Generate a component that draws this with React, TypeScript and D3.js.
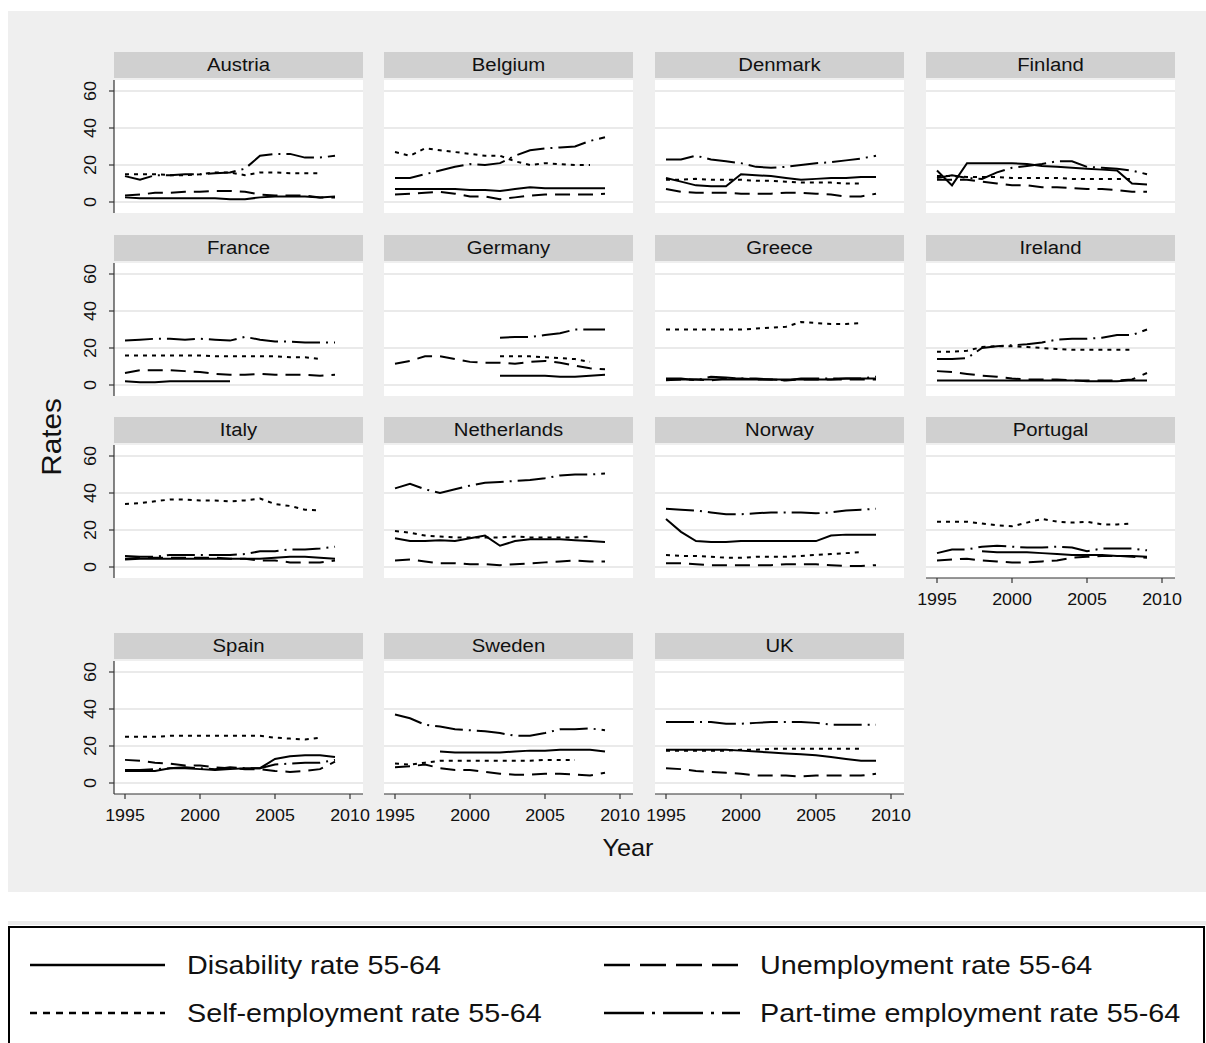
import * as d3 from 'd3'

const years = d3.range(1995, 2010)

const countries = [
  'Austria', 'Belgium', 'Denmark', 'Finland',
  'France', 'Germany', 'Greece', 'Ireland',
  'Italy', 'Netherlands', 'Norway', 'Portugal',
  'Spain', 'Sweden', 'UK',
]

type Row = (number | null)[]
const _ = null

const disability: Record<string, Row> = {
  Austria: [2.5, 2, 2, 2, 2, 2, 2, 1.5, 1.5, 2.5, 3, 3, 3, 2.5, 3],
  Belgium: [7, 7, 7, 7, 7, 6.5, 6.5, 6, 7, 8, 7.5, 7.5, 7.5, 7.5, 7.5],
  Denmark: [13, 11, 9, 8.5, 8.5, 15, 14.5, 14, 13, 12, 12.5, 13, 13, 13.5, 13.5],
  Finland: [17, 9, 21, 21, 21, 21, 20.5, 19.5, 19, 18.5, 18, 17.5, 17, 10, 9.5],
  France: [2, 1.5, 1.5, 2, 2, 2, 2, 2, _, _, _, _, _, _, _],
  Germany: [_, _, _, _, _, _, _, 5, 5, 5, 5, 4.5, 4.5, 5, 5.5],
  Greece: [3, 3, 3, 3, 3, 3, 3, 3, 3, 3, 3, 3, 3.5, 3.5, 3.5],
  Ireland: [2.5, 2.5, 2.5, 2.5, 2.5, 2.5, 2.5, 2.5, 2.5, 2.5, 2, 2, 2, 2.5, 2.5],
  Italy: [4, 4.5, 4.5, 4.5, 4.5, 4.5, 4.5, 4.5, 4.5, 4.5, 5, 5.5, 5.5, 5, 4.5],
  Netherlands: [15.5, 14, 14, 14.5, 14, 15.5, 17, 11.5, 14, 15, 15, 15, 14.5, 14, 13.5],
  Norway: [26, 19, 14, 13.5, 13.5, 14, 14, 14, 14, 14, 14, 17, 17.5, 17.5, 17.5],
  Portugal: [_, _, _, 8.5, 8, 8, 8, 7.5, 7, 6.5, 6.5, 6.5, 6, 6, 5.5],
  Spain: [6.5, 6.5, 6.5, 8, 8, 7.5, 7, 7.5, 8, 8, 13, 14.5, 15, 15, 14],
  Sweden: [_, _, _, 17, 16.5, 16.5, 16.5, 16.5, 17, 17.5, 17.5, 18, 18, 18, 17],
  UK: [18, 18, 18, 18, 18, 17.5, 17, 16.5, 16, 15.5, 15, 14, 13, 12, 12],
}

const unemployment: Record<string, Row> = {
  Austria: [3.5, 4, 5, 5, 5.5, 5.5, 6, 6, 5.5, 4, 3.5, 3.5, 3.5, 2.5, 2.5],
  Belgium: [4, 4.5, 5, 5.5, 4.5, 3, 3, 1.5, 2.5, 3.5, 4, 4, 4, 4, 4.5],
  Denmark: [7, 5.5, 5, 5, 5, 4.5, 4.5, 4.5, 5, 5, 4.5, 4, 3, 3, 4.5],
  Finland: [12, 12, 12, 11, 10, 9, 9, 8, 8, 7.5, 7, 7, 6.5, 5.5, 5.5],
  France: [6.5, 8, 8, 8, 7.5, 7, 6, 5.5, 5.5, 6, 5.5, 5.5, 5.5, 5, 5.5],
  Germany: [11.5, 13, 15.5, 15.5, 14, 12.5, 12, 12, 11.5, 12.5, 13, 12, 10.5, 9, 8.5],
  Greece: [2.5, 3, 3, 2.5, 3.5, 3.5, 3, 3, 2.5, 3, 3, 3, 3, 3, 3],
  Ireland: [7.5, 7, 6, 5, 4.5, 3.5, 3, 3, 3, 2.5, 2.5, 2.5, 2.5, 3, 6.5],
  Italy: [4.5, 5, 5, 5, 5, 5, 5, 4.5, 4.5, 3.5, 3.5, 2.5, 2.5, 2.5, 3.5],
  Netherlands: [3.5, 4, 3, 2, 2, 1.5, 1.5, 1, 1.5, 2, 2.5, 3, 3.5, 3, 3],
  Norway: [2, 2, 1.5, 1, 1, 1, 1, 1, 1.5, 1.5, 1.5, 1, 0.5, 0.5, 1],
  Portugal: [3.5, 4, 4.5, 3.5, 3, 2.5, 2.5, 3, 3.5, 5, 5.5, 6, 6, 5.5, 5],
  Spain: [12.5, 12, 11, 10.5, 9.5, 9.5, 8.5, 8, 7.5, 7.5, 6.5, 6, 6.5, 7.5, 11.5],
  Sweden: [8.5, 9, 10, 8, 7, 7, 6, 5, 4.5, 4.5, 5, 5, 4.5, 4, 5.5],
  UK: [8, 7.5, 6.5, 6, 5.5, 5, 4, 4, 4, 3.5, 4, 4, 4, 4, 5],
}

const selfEmployment: Record<string, Row> = {
  Austria: [15, 15, 15, 14.5, 14.5, 15, 16, 16, 14.5, 16, 16, 15.5, 15.5, 15.5, _],
  Belgium: [27, 25, 29, 28, 27, 26, 25, 25, 22, 20, 21, 20.5, 20, 20, _],
  Denmark: [12, 12, 12.5, 12, 12, 12, 11.5, 11.5, 11, 10.5, 10.5, 10.5, 10, 10, _],
  Finland: [14, 14, 13.5, 13.5, 13.5, 13, 13, 13, 13, 12.5, 12.5, 12.5, 12.5, 12.5, _],
  France: [16, 16, 16, 16, 16, 16, 15.5, 15.5, 15.5, 15.5, 15.5, 15, 15, 14, _],
  Germany: [_, _, _, _, _, _, _, 15.5, 15.5, 15.5, 15, 14.5, 14, 12.5, _],
  Greece: [30, 30, 30, 30, 30, 30, 30.5, 31, 31.5, 34, 33.5, 33, 33, 33.5, _],
  Ireland: [18, 18, 18.5, 20.5, 21, 21, 20.5, 20, 19.5, 19, 19, 19, 19, 19, _],
  Italy: [34, 34.5, 35.5, 36.5, 36.5, 36, 36, 35.5, 36, 37, 34, 33, 31, 30.5, _],
  Netherlands: [19.5, 18.5, 17, 16.5, 16, 16, 16, 16, 16.5, 16, 16, 16, 16, 16.5, _],
  Norway: [6.5, 6, 6, 5.5, 5, 5, 5.5, 5.5, 5.5, 6, 6.5, 7, 7.5, 8, _],
  Portugal: [24.5, 24.5, 24.5, 23.5, 22.5, 22, 24, 26, 24.5, 24, 24.5, 23, 23, 23.5, _],
  Spain: [25, 25, 25, 25.5, 25.5, 25.5, 25.5, 25.5, 25.5, 25.5, 24.5, 24, 23.5, 24.5, _],
  Sweden: [10.5, 10, 11, 12, 12, 12, 12, 12, 12, 12, 12.5, 12.5, 12.5, _, _],
  UK: [17.5, 17.5, 17.5, 17.5, 17.5, 18, 18, 18.5, 18.5, 18.5, 18.5, 18.5, 18.5, 18.5, _],
}

const partTime: Record<string, Row> = {
  Austria: [14, 12, 14.5, 14.5, 15, 15, 15.5, 16, 18, 25, 26, 26, 24, 24, 25],
  Belgium: [13, 13, 15, 17, 19, 20.5, 20, 21, 25, 28, 29, 29.5, 30, 33, 35],
  Denmark: [23, 23, 25, 23, 22, 21, 19, 18.5, 19, 20, 21, 21.5, 22.5, 23.5, 25],
  Finland: [13, 14.5, 13, 12.5, 16, 18.5, 19.5, 20.5, 22, 22, 19, 18.5, 18, 17, 15],
  France: [24, 24.5, 25, 25, 24.5, 25, 24.5, 24, 26, 24.5, 23.5, 23.5, 23, 23, 23],
  Germany: [_, _, _, _, _, _, _, 25.5, 26, 26, 27, 28, 30, 30, 30],
  Greece: [3.5, 3.5, 2.5, 4.5, 4, 3.5, 3.5, 3, 2.5, 3.5, 3.5, 3.5, 3.5, 3.5, 4.5],
  Ireland: [14, 14, 14.5, 20, 21, 21.5, 22, 23, 24.5, 25, 25, 25.5, 27, 27, 30],
  Italy: [6, 5.5, 5.5, 6.5, 6.5, 6.5, 6.5, 6.5, 7, 8.5, 8.5, 9.5, 9.5, 10, 11],
  Netherlands: [42.5, 45, 42, 40, 42, 44, 45.5, 46, 46.5, 47, 48, 49.5, 50, 50, 50.5],
  Norway: [31.5, 31, 30.5, 29.5, 28.5, 28.5, 29, 29.5, 29.5, 29.5, 29, 29.5, 30.5, 31, 31.5],
  Portugal: [7.5, 9.5, 9.5, 11, 11.5, 11, 10.5, 10.5, 11, 10.5, 8.5, 10, 10, 10, 9],
  Spain: [7, 7, 7.5, 8, 8.5, 8, 7.5, 8.5, 8, 8, 10, 10.5, 11, 11, 12.5],
  Sweden: [37, 35, 31.5, 30.5, 29, 28.5, 28, 27, 25.5, 25.5, 27, 29, 29, 29.5, 28.5],
  UK: [33, 33, 33, 33, 32, 32, 32.5, 33, 33, 33, 32.5, 31.5, 31.5, 31.5, 31.5],
}

const yTicks = [0, 20, 40, 60]
const xTicks = [1995, 2000, 2005, 2010]

const seriesDefs = [
  { label: 'Disability rate 55-64', data: disability, dash: '', legendDash: '' },
  { label: 'Unemployment rate 55-64', data: unemployment, dash: '15,8', legendDash: '26,10' },
  { label: 'Self-employment rate 55-64', data: selfEmployment, dash: '4,5', legendDash: '7,6' },
  { label: 'Part-time employment rate 55-64', data: partTime, dash: '28,6,2,6', legendDash: '40,8,3,8' },
]

const FONT = 'Arial, "Liberation Sans", sans-serif'
const colLeft = [114, 384, 655, 926]
const rowTop = [52, 235, 417, 633]
const panelW = 249
const stripH = 26
const plotH = 133

function Panel({ name, idx }: { name: string; idx: number }) {
  const col = idx % 4
  const row = Math.floor(idx / 4)
  const left = colLeft[col]
  const top = rowTop[row]
  const pTop = top + stripH + 2
  const x = d3.scaleLinear().domain([1995, 2010]).range([left + 11, left + 236])
  const y = d3.scaleLinear().domain([0, 60]).range([pTop + 122, pTop + 11])
  const line = d3
    .line<number | null>()
    .defined((d) => d != null)
    .x((_d, i) => x(years[i]))
    .y((d) => y(d as number))
  const showX = idx >= 11
  const showY = col === 0
  const bottom = pTop + plotH
  return (
    <g>
      <rect x={left} y={top} width={panelW} height={stripH} fill="#d0d0d0" />
      <text
        transform={`translate(${left + panelW / 2},${top + 19}) scale(1.13,1)`}
        textAnchor="middle"
        fontSize={18}
        fill="#111"
      >
        {name}
      </text>
      <rect x={left} y={pTop} width={panelW} height={plotH} fill="#fff" />
      {yTicks.map((t) => (
        <line key={t} x1={left} x2={left + panelW} y1={y(t)} y2={y(t)} stroke="#eaeaea" strokeWidth={2} />
      ))}
      {seriesDefs.map((s) => (
        <path
          key={s.label}
          d={line(s.data[name]) ?? ''}
          fill="none"
          stroke="#000"
          strokeWidth={2}
          strokeDasharray={s.dash || undefined}
        />
      ))}
      {showY && (
        <g>
          <line x1={left} x2={left} y1={pTop} y2={bottom} stroke="#333" strokeWidth={1.2} />
          {yTicks.map((t) => (
            <g key={t}>
              <line x1={left - 5} x2={left} y1={y(t)} y2={y(t)} stroke="#333" strokeWidth={1.2} />
              <text transform={`translate(${left - 18},${y(t)}) rotate(-90) scale(1.05,1)`} textAnchor="middle" fontSize={17} fill="#111">
                {t}
              </text>
            </g>
          ))}
        </g>
      )}
      {showX && (
        <g>
          <line x1={left} x2={left + panelW} y1={bottom} y2={bottom} stroke="#333" strokeWidth={1.2} />
          {xTicks.map((t) => (
            <g key={t}>
              <line x1={x(t)} x2={x(t)} y1={bottom} y2={bottom + 5} stroke="#333" strokeWidth={1.2} />
              <text
                transform={`translate(${x(t)},${bottom + 27}) scale(1.05,1)`}
                textAnchor="middle"
                fontSize={17}
                fill="#111"
              >
                {t}
              </text>
            </g>
          ))}
        </g>
      )}
    </g>
  )
}

export default function App() {
  const legendRows = [965, 1013]
  const legendCols = [{ x1: 30, x2: 165, tx: 187 }, { x1: 604, x2: 740, tx: 760 }]
  return (
    <svg
      width={1206}
      height={1043}
      style={{ position: 'absolute', left: 0, top: 0, background: '#fff' }}
      fontFamily={FONT}
    >
      <rect x={8} y={11} width={1198} height={881} fill="#efefef" />
      {countries.map((c, i) => (
        <Panel key={c} name={c} idx={i} />
      ))}
      <text transform="translate(61,437) rotate(-90) scale(1.1,1)" textAnchor="middle" fontSize={27} fill="#111">
        Rates
      </text>
      <text transform="translate(628,856) scale(1.1,1)" textAnchor="middle" fontSize={23} fill="#111">
        Year
      </text>
      <rect x={8} y={921} width={1198} height={4} fill="#eaeaea" />
      <rect x={9} y={927} width={1195} height={130} fill="#fff" stroke="#000" strokeWidth={2} />
      {seriesDefs.map((s, i) => {
        const r = legendRows[Math.floor(i / 2)]
        const c = legendCols[i % 2]
        return (
          <g key={s.label}>
            <line
              x1={c.x1}
              x2={c.x2}
              y1={r}
              y2={r}
              stroke="#000"
              strokeWidth={2.5}
              strokeDasharray={s.legendDash || undefined}
            />
            <text transform={`translate(${c.tx},${r + 9}) scale(1.15,1)`} fontSize={25} fill="#111">
              {s.label}
            </text>
          </g>
        )
      })}
    </svg>
  )
}
